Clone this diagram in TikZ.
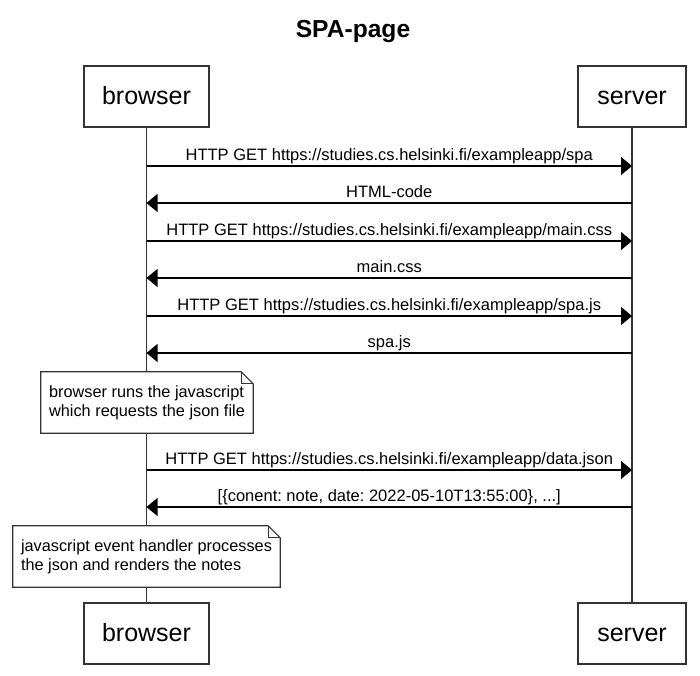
\documentclass[tikz,border=0pt]{standalone}
\usepackage{fontspec}
\setmainfont{Liberation Sans}
\usetikzlibrary{arrows.meta}
\definecolor{edge}{HTML}{333333}
\frenchspacing
\begin{document}
\begin{tikzpicture}[x=1pt,y=-1pt,
  actor/.style={draw=edge, fill=white, line width=1.2pt, minimum width=125pt, minimum height=61pt, inner sep=0pt, text height=15pt, text depth=0pt, font=\fontsize{25}{30}\selectfont},
  life/.style={draw=edge, line width=1.2pt},
  msg/.style={draw=black, line width=1.2pt, -{Triangle[length=11pt,width=18pt]}},
  lbl/.style={anchor=base, yshift=6pt, inner sep=0pt, font=\fontsize{16.5}{19}\selectfont},
  notetext/.style={fill=white, inner xsep=7pt, inner ysep=0pt, minimum height=61pt, align=left, font=\fontsize{16.3}{19}\selectfont},
  notebox/.style={draw=edge, line width=1.2pt}
]
\useasboundingbox (0,0) rectangle (700,675);

\node[font=\bfseries\fontsize{24.6}{28}\selectfont, anchor=base] (title) at (353,37) {SPA-page};

\node[actor] (bt) at (146.5,96.5) {browser};
\node[actor, minimum width=108pt] (st) at (632,96.5) {server};
\node[actor] (bb) at (146.5,633.5) {browser};
\node[actor, minimum width=108pt] (sb) at (632,633.5) {server};

\draw[life] (bt.south) -- (bb.north);
\draw[life] (st.south) -- (sb.north);

\coordinate (b1) at (146.5,166); \coordinate (s1) at (632,166);
\coordinate (b2) at (146.5,203); \coordinate (s2) at (632,203);
\coordinate (b3) at (146.5,241); \coordinate (s3) at (632,241);
\coordinate (b4) at (146.5,278); \coordinate (s4) at (632,278);
\coordinate (b5) at (146.5,316); \coordinate (s5) at (632,316);
\coordinate (b6) at (146.5,353); \coordinate (s6) at (632,353);
\coordinate (b7) at (146.5,470); \coordinate (s7) at (632,470);
\coordinate (b8) at (146.5,507); \coordinate (s8) at (632,507);

\draw[msg] (b1) -- (s1) node[lbl, midway] {HTTP GET https://studies.cs.helsinki.fi/exampleapp/spa};
\draw[msg] (s2) -- (b2) node[lbl, midway] {HTML-code};
\draw[msg] (b3) -- (s3) node[lbl, midway] {HTTP GET https://studies.cs.helsinki.fi/exampleapp/main.css};
\draw[msg] (s4) -- (b4) node[lbl, midway] {main.css};
\draw[msg] (b5) -- (s5) node[lbl, midway] {HTTP GET https://studies.cs.helsinki.fi/exampleapp/spa.js};
\draw[msg] (s6) -- (b6) node[lbl, midway] {spa.js};
\draw[msg] (b7) -- (s7) node[lbl, midway] {HTTP GET https://studies.cs.helsinki.fi/exampleapp/data.json};
\draw[msg] (s8) -- (b8) node[lbl, midway] {[\{conent: note, date: 2022-05-10T13:55:00\}, ...]};

\node[notetext, minimum width=212pt] (n1) at (147,402.5) {browser runs the javascript\\which requests the json file};
\draw[notebox] (n1.north west) -- ([xshift=-12pt]n1.north east) -- ([yshift=-12pt]n1.north east) -- (n1.south east) -- (n1.south west) -- cycle;
\draw[notebox] ([xshift=-12pt]n1.north east) |- ([yshift=-12pt]n1.north east);

\node[notetext, minimum width=267pt] (n2) at (146.5,556.5) {javascript event handler processes\\the json and renders the notes};
\draw[notebox] (n2.north west) -- ([xshift=-12pt]n2.north east) -- ([yshift=-12pt]n2.north east) -- (n2.south east) -- (n2.south west) -- cycle;
\draw[notebox] ([xshift=-12pt]n2.north east) |- ([yshift=-12pt]n2.north east);
\end{tikzpicture}
\end{document}
